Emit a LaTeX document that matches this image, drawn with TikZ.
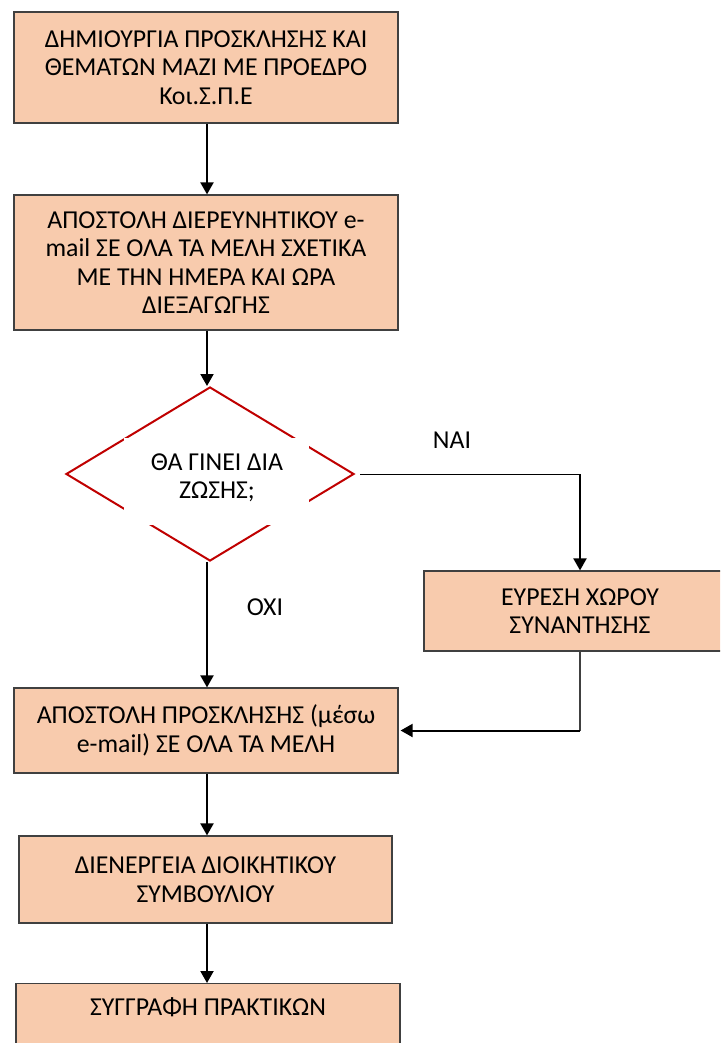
\documentclass[tikz,border=0pt]{standalone}
\usepackage{fontspec}
\setmainfont{Carlito}
\usetikzlibrary{arrows.meta,shapes.geometric,calc}
\definecolor{peach}{HTML}{F8CBAD}
\definecolor{boxline}{HTML}{404040}
\definecolor{dred}{HTML}{C00000}
\begin{document}
\begin{tikzpicture}[x=1pt,y=-1pt,
  every node/.style={font=\fontsize{25.8}{28.5}\selectfont, align=center, inner sep=0pt},
  stepbox/.style={draw=boxline, line width=1.2pt, fill=peach},
  arr/.style={line width=2pt, -{Triangle[width=13pt,length=12pt]}},
  thinarr/.style={line width=1pt},
  decision/.style={diamond, draw=dred, line width=2pt, inner sep=0pt, minimum width=288pt, minimum height=174pt}
]
\useasboundingbox (0,0) rectangle (720,1043);
\clip (0,0) rectangle (720,1043);
\fill[white] (0,0) rectangle (720,1043);

\node[stepbox, minimum width=384pt, minimum height=111pt] (b1) at (206,67.5)
  {ΔΗΜΙΟΥΡΓΙΑ ΠΡΟΣΚΛΗΣΗΣ ΚΑΙ\\ΘΕΜΑΤΩΝ ΜΑΖΙ ΜΕ ΠΡΟΕΔΡΟ\\Κοι.Σ.Π.Ε};
\node[stepbox, minimum width=384pt, minimum height=135pt] (b2) at (206,262.5)
  {ΑΠΟΣΤΟΛΗ ΔΙΕΡΕΥΝΗΤΙΚΟΥ e-\\mail ΣΕ ΟΛΑ ΤΑ ΜΕΛΗ ΣΧΕΤΙΚΑ\\ΜΕ ΤΗΝ ΗΜΕΡΑ ΚΑΙ ΩΡΑ\\ΔΙΕΞΑΓΩΓΗΣ};
\node[decision] (dia) at (210,474) {};
\fill[white] (124,438) rectangle (309,525);
\node (q) at (217,478) {ΘΑ ΓΙΝΕΙ ΔΙΑ\\ΖΩΣΗΣ;};
\node[stepbox, minimum width=312pt, minimum height=80pt] (b3) at (580,611)
  {ΕΥΡΕΣΗ ΧΩΡΟΥ\\ΣΥΝΑΝΤΗΣΗΣ};
\node[stepbox, minimum width=384pt, minimum height=85pt] (b4) at (206,730.5)
  {ΑΠΟΣΤΟΛΗ ΠΡΟΣΚΛΗΣΗΣ (μέσω\\e-mail) ΣΕ ΟΛΑ ΤΑ ΜΕΛΗ};
\node[stepbox, minimum width=373pt, minimum height=87pt] (b5) at (205.5,879.5)
  {ΔΙΕΝΕΡΓΕΙΑ ΔΙΟΙΚΗΤΙΚΟΥ\\ΣΥΜΒΟΥΛΙΟΥ};
\node[stepbox, minimum width=384pt, minimum height=90pt, anchor=north] (b6) at (208,983) {};
\node (t6) at (208,1007) {ΣΥΓΓΡΑΦΗ ΠΡΑΚΤΙΚΩΝ};

\node (nai) at (452,440) {ΝΑΙ};
\node (oxi) at (265,607) {ΟΧΙ};

\coordinate (col) at (207,0);
\draw[arr] (b1.south -| col) -- (b2.north -| col);
\draw[arr] (b2.south -| col) -- (dia.north -| col);
\coordinate (dE) at ($(dia.east)+(5,0)$);
\coordinate (corner) at (dE -| b3.north);
\draw[thinarr] (dE) -- (corner);
\draw[arr] (corner) -- (b3.north);
\draw[arr] (dia.south -| col) -- (b4.north -| col);
\coordinate (c2) at (b3.south |- b4.east);
\draw[line width=1.3pt, draw=boxline] (b3.south) -- (c2);
\draw[arr] (c2) -- ($(b4.east)+(2,0)$);
\draw[arr] (b4.south -| col) -- (b5.north -| col);
\draw[arr] (b5.south -| col) -- (b6.north -| col);
\end{tikzpicture}
\end{document}
